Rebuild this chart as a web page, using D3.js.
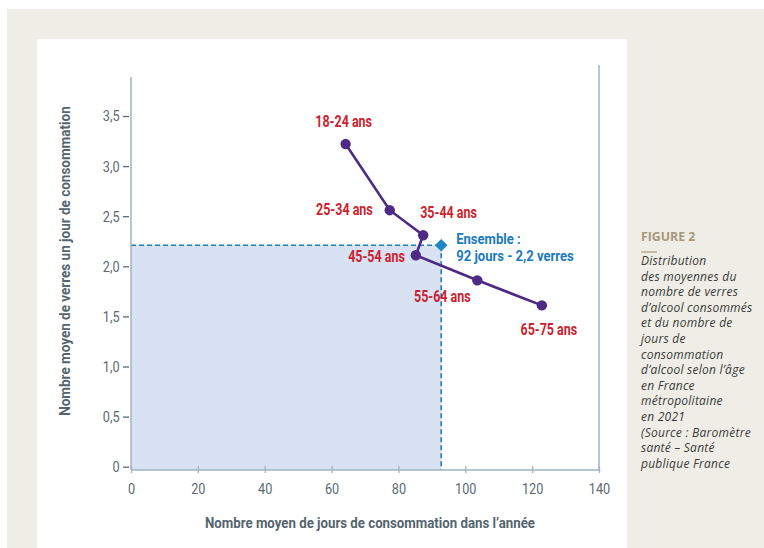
<!DOCTYPE html>
<html><head><meta charset="utf-8">
<script src="https://cdn.jsdelivr.net/npm/d3@7"></script>
<style>
html,body{margin:0;padding:0;background:#fff;}
svg{display:block;}
</style></head>
<body>
<svg id="chart" width="764" height="548"></svg>
<script>
const ageGroups = ["18-24 ans","25-34 ans","35-44 ans","45-54 ans","55-64 ans","65-75 ans"];
const joursValues = [64.2, 77.4, 87.4, 85.2, 103.6, 122.9];
const verresValues = [3.22, 2.56, 2.31, 2.11, 1.86, 1.61];
const ensemble = {jours: 92.8, verres: 2.21};
const xTicks = [0,20,40,60,80,100,120,140];
const yTicks = [0,0.5,1,1.5,2,2.5,3,3.5];
const xTitle = "Nombre moyen de jours de consommation dans l’année";
const yTitle = "Nombre moyen de verres un jour de consommation";
const ensembleLines = ["Ensemble :","92 jours - 2,2 verres"];
const figTitle = "FIGURE 2";
const captionLines = ["Distribution","des moyennes du","nombre de verres","d’alcool consommés","et du nombre de","jours de","consommation","d’alcool selon l’âge","en France","métropolitaine","en 2021","(Source : Baromètre","santé – Santé","publique France"];

const COND = "Roboto, 'Liberation Sans', sans-serif";
const SX = 0.78; // horizontal condensing

// label placement (style)
const labelPos = [
  {dx:-2, dy:-17, anchor:"middle"},
  {dx:-17, dy:4.5, anchor:"end"},
  {dx:-3, dy:-17, anchor:"start"},
  {dx:-11, dy:7, anchor:"end"},
  {dx:-35, dy:21.5, anchor:"middle"},
  {dx:7, dy:30, anchor:"middle"}
];

const svg = d3.select("#chart");
function condText(parent, px, py, str, o) {
  const g = parent.append("g").attr("transform", `translate(${px},${py}) ${o.rotate ? "rotate(" + o.rotate + ")" : ""} scale(${o.sx || SX},1)`);
  return g.append("text").attr("x",0).attr("y",0)
    .attr("text-anchor", o.anchor || "start")
    .attr("font-family", COND).attr("font-size", o.size || 16)
    .attr("font-weight", o.weight || "bold").attr("fill", o.fill).text(str);
}

// background
svg.append("rect").attr("x",7).attr("y",9).attr("width",757).attr("height",539).attr("fill","#eeeee6");
svg.append("rect").attr("x",37).attr("y",39).attr("width",590).attr("height",509).attr("fill","#ffffff");

const x = d3.scaleLinear().domain([0,140]).range([131,599]);
const y = d3.scaleLinear().domain([0,3.5]).range([466.7,116]);
const axisY = 470;
const axisColor = "#9fb3c4";
const tickColor = "#5b6a76";

// shaded area
svg.append("rect")
  .attr("x", x(0)).attr("y", y(ensemble.verres))
  .attr("width", x(ensemble.jours)-x(0)).attr("height", axisY - y(ensemble.verres))
  .attr("fill","#d9e2f2");

// dashed lines
svg.append("line").attr("x1",x(0)).attr("x2",x(ensemble.jours))
  .attr("y1",y(ensemble.verres)).attr("y2",y(ensemble.verres))
  .attr("stroke","#1f7bc4").attr("stroke-width",1.6).attr("stroke-dasharray","5,3");
svg.append("line").attr("x1",x(ensemble.jours)).attr("x2",x(ensemble.jours))
  .attr("y1",y(ensemble.verres)).attr("y2",axisY)
  .attr("stroke","#1f7bc4").attr("stroke-width",1.6).attr("stroke-dasharray","5,3");

// axes lines
svg.append("line").attr("x1",x(0)).attr("x2",x(0)).attr("y1",77).attr("y2",axisY).attr("stroke",axisColor).attr("stroke-width",1.5);
svg.append("line").attr("x1",x(140)).attr("x2",x(140)).attr("y1",65).attr("y2",axisY).attr("stroke",axisColor).attr("stroke-width",1.5);
svg.append("line").attr("x1",x(0)).attr("x2",x(140)).attr("y1",axisY).attr("y2",axisY).attr("stroke",axisColor).attr("stroke-width",1.5);

// x axis
const xAxis = d3.axisBottom(x).tickValues(xTicks).tickSize(0).tickPadding(13).tickFormat(d3.format("d"));
const gx = svg.append("g").attr("transform",`translate(0,${axisY})`).call(xAxis);
gx.select(".domain").remove();
gx.selectAll(".tick").append("line").attr("y1",-4).attr("y2",3).attr("stroke",axisColor).attr("stroke-width",1.3);
gx.selectAll("text").attr("font-family",COND).attr("font-size",15.5).attr("fill",tickColor).attr("transform","scale(0.82,1)");

// y axis
const yAxis = d3.axisLeft(y).tickValues(yTicks).tickSize(0).tickPadding(14)
  .tickFormat(d => d===0 ? "0" : d3.format(".1f")(d).replace(".",","));
const gy = svg.append("g").attr("transform",`translate(${x(0)},0)`).call(yAxis);
gy.select(".domain").remove();
gy.selectAll(".tick").append("line").attr("x1",-8).attr("x2",-2).attr("stroke",tickColor).attr("stroke-width",1.3);
gy.selectAll("text").attr("font-family",COND).attr("font-size",15.5).attr("fill",tickColor).attr("transform","scale(0.82,1)");

// titles
condText(svg, 370, 528, xTitle, {anchor:"middle", size:15.5, fill:"#55656f", sx:0.855});
condText(svg, 70, 261, yTitle, {anchor:"middle", size:15.5, fill:"#55656f", rotate:-90, sx:0.87});

// data line
const pts = ageGroups.map((g,i)=>({g, xv:joursValues[i], yv:verresValues[i]}));
svg.append("path").datum(pts)
  .attr("d", d3.line().x(d=>x(d.xv)).y(d=>y(d.yv)))
  .attr("fill","none").attr("stroke","#4e2a84").attr("stroke-width",2.6);
svg.selectAll("circle.pt").data(pts).enter().append("circle")
  .attr("cx",d=>x(d.xv)).attr("cy",d=>y(d.yv)).attr("r",5.2).attr("fill","#4e2a84");

// ensemble diamond
svg.append("path").attr("d", d3.symbol(d3.symbolDiamond2, 100)())
  .attr("transform",`translate(${x(ensemble.jours)},${y(ensemble.verres)})`)
  .attr("fill","#1f86c8");

// age labels
pts.forEach((d,i) => {
  condText(svg, x(d.xv)+labelPos[i].dx, y(d.yv)+labelPos[i].dy, d.g,
    {anchor:labelPos[i].anchor, size:16, fill:"#cc1f30"});
});

// ensemble label
ensembleLines.forEach((t,i) => {
  condText(svg, x(ensemble.jours)+15, y(ensemble.verres)-1.5+i*17.5, t, {size:14.5, fill:"#1a7ac0", sx:0.9});
});

// caption
svg.append("text").attr("x",641).attr("y",241).attr("font-family","'Open Sans',sans-serif")
  .attr("font-size",12.3).attr("font-weight","bold").attr("fill","#a8967a").text(figTitle);
svg.append("line").attr("x1",641).attr("x2",657).attr("y1",252).attr("y2",252).attr("stroke","#a8967a").attr("stroke-width",1.2);
svg.append("text").attr("font-family","'Open Sans',sans-serif").attr("font-style","italic")
  .attr("font-size",12).attr("letter-spacing",0.25).attr("fill","#3a3a3a")
  .selectAll("tspan").data(captionLines).enter().append("tspan")
  .attr("x",641).attr("y",(d,i)=>265+i*15.6).text(d=>d);
</script>
</body></html>
